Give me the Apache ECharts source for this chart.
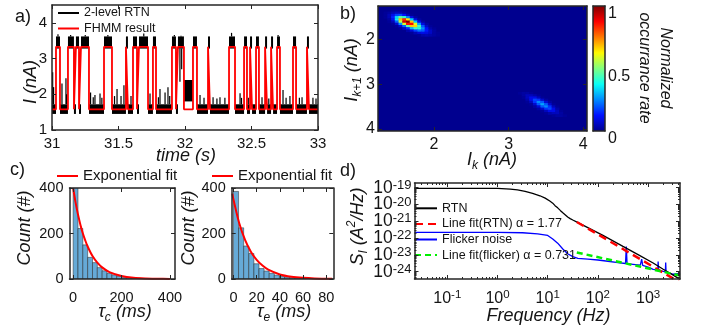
<!DOCTYPE html>
<html>
<head>
<meta charset="utf-8">
<title>RTN analysis</title>
<script src="https://cdn.jsdelivr.net/npm/echarts@6.0.0/dist/echarts.min.js"></script>
<style>
html,body{margin:0;padding:0;background:#ffffff;}
#chart{width:704px;height:332px;}
</style>
</head>
<body>
<div id="chart"></div>
<script>
// ================= (a) RTN time trace =================
const timeTicks = [31, 31.5, 32, 32.5, 33];
const currentTicks = [1, 2, 3, 4];
const fhmmLevels = [1.58, 3.33];              // FHMM low / high level (nA)
const highStateIntervals = [
  [31.030, 31.060], [31.120, 31.165], [31.180, 31.203], [31.218, 31.278],
  [31.391, 31.451], [31.556, 31.571], [31.609, 31.639], [31.654, 31.722],
  [31.759, 31.782], [31.902, 31.932], [31.947, 31.992], [32.060, 32.090],
  [32.173, 32.188], [32.331, 32.376], [32.444, 32.466], [32.489, 32.504],
  [32.534, 32.556], [32.602, 32.617], [32.647, 32.662], [32.692, 32.714],
  [32.812, 32.835], [32.917, 32.932]
];
const rtnLowBand = [1.45, 1.72];              // noisy black band, low state
const rtnHighBand = [3.28, 3.62];             // noisy black band, high state
const rtnMidState = [31.992, 32.060, 1.80, 2.40];
const rtnLowSpikes = [
  [31.005, 2.62], [31.012, 2.20], [31.075, 2.30], [31.105, 2.45], [31.110, 2.00],
  [31.290, 2.05], [31.310, 1.92], [31.323, 1.98], [31.361, 2.02], [31.375, 1.90],
  [31.470, 1.95], [31.489, 2.15], [31.519, 1.95], [31.541, 2.25], [31.594, 1.95],
  [31.737, 2.02], [31.800, 1.92], [31.812, 2.15], [31.850, 2.05], [31.872, 2.20],
  [31.885, 1.95], [32.113, 1.98], [32.143, 1.90], [32.211, 1.92], [32.240, 1.88],
  [32.263, 1.92], [32.300, 1.90], [32.414, 2.03], [32.425, 1.90], [32.476, 1.90],
  [32.579, 1.92], [32.630, 1.88], [32.737, 2.12], [32.760, 1.90], [32.789, 1.95],
  [32.860, 1.90], [32.880, 1.92], [32.962, 1.90], [32.985, 1.88]
];
const rtnHighSpikes = [
  [31.045, 3.68], [31.140, 3.66], [31.250, 3.66], [31.420, 3.66], [31.690, 3.70],
  [31.920, 3.66], [31.970, 3.64], [32.350, 3.72], [32.700, 3.66]
];
const rtnHighDips = [[31.962, 2.35], [31.975, 2.70]];

// ================= (b) lag plot density =================
const lagTicks = [2, 3, 4];
const lagRange = [1.25, 4.05];
const colorbarTicks = [0, 0.5, 1];
const densityCell = 0.05;
const lowStateOrigin = [1.35, 1.35];          // x, y of first cell centre
const lowStateDensity = [
  [0, 0, 0.01, 0.01, 0.01, 0, 0, 0, 0, 0, 0, 0, 0, 0, 0],
  [0.01, 0.02, 0.04, 0.05, 0.04, 0.02, 0.01, 0, 0, 0, 0, 0, 0, 0, 0],
  [0.01, 0.04, 0.10, 0.17, 0.18, 0.12, 0.05, 0.01, 0, 0, 0, 0, 0, 0, 0],
  [0.01, 0.04, 0.14, 0.33, 0.47, 0.42, 0.24, 0.09, 0.02, 0, 0, 0, 0, 0, 0],
  [0, 0.02, 0.11, 0.35, 0.68, 0.83, 0.64, 0.32, 0.10, 0.02, 0, 0, 0, 0, 0],
  [0, 0.01, 0.05, 0.21, 0.55, 0.92, 1.00, 0.68, 0.32, 0.10, 0.02, 0, 0, 0, 0],
  [0, 0, 0.01, 0.07, 0.26, 0.58, 0.86, 0.87, 0.60, 0.28, 0.09, 0.02, 0, 0, 0],
  [0, 0, 0, 0.01, 0.07, 0.21, 0.46, 0.67, 0.66, 0.44, 0.20, 0.06, 0.01, 0, 0],
  [0, 0, 0, 0, 0.01, 0.05, 0.14, 0.30, 0.43, 0.41, 0.26, 0.12, 0.03, 0.01, 0],
  [0, 0, 0, 0, 0, 0, 0.03, 0.08, 0.17, 0.23, 0.21, 0.13, 0.06, 0.02, 0],
  [0, 0, 0, 0, 0, 0, 0, 0.01, 0.04, 0.08, 0.10, 0.09, 0.06, 0.02, 0.01],
  [0, 0, 0, 0, 0, 0, 0, 0, 0, 0.01, 0.03, 0.04, 0.03, 0.02, 0.01]
];
const highStateOrigin = [3.15, 3.20];
const highStateDensity = [
  [0.01, 0.02, 0.02, 0.01, 0, 0, 0, 0, 0, 0, 0, 0, 0],
  [0, 0.02, 0.05, 0.05, 0.03, 0.01, 0, 0, 0, 0, 0, 0, 0],
  [0, 0.01, 0.05, 0.10, 0.10, 0.05, 0.01, 0, 0, 0, 0, 0, 0],
  [0, 0, 0.03, 0.10, 0.18, 0.16, 0.07, 0.02, 0, 0, 0, 0, 0],
  [0, 0, 0.01, 0.05, 0.16, 0.25, 0.20, 0.08, 0.02, 0, 0, 0, 0],
  [0, 0, 0, 0.01, 0.07, 0.20, 0.28, 0.20, 0.07, 0.01, 0, 0, 0],
  [0, 0, 0, 0, 0.02, 0.08, 0.20, 0.25, 0.16, 0.05, 0.01, 0, 0],
  [0, 0, 0, 0, 0, 0.02, 0.07, 0.16, 0.18, 0.10, 0.03, 0, 0],
  [0, 0, 0, 0, 0, 0, 0.01, 0.05, 0.10, 0.10, 0.05, 0.01, 0],
  [0, 0, 0, 0, 0, 0, 0, 0.01, 0.03, 0.05, 0.05, 0.02, 0],
  [0, 0, 0, 0, 0, 0, 0, 0, 0, 0.01, 0.02, 0.02, 0.01]
];
const jetColors = ['#00008F', '#0010FF', '#008AFF', '#0AFFF5', '#80FF80', '#FFFA00', '#FF7A00', '#FC0000', '#800000'];

// ================= (c) dwell-time histograms =================
const countTicks = [0, 200, 400];
const tauCTicks = [0, 200, 400];
const tauETicks = [0, 20, 40, 60, 80];
const tauCBinWidth = 20;
const tauCCounts = [450, 222, 150, 95, 72, 50, 36, 25, 18, 12, 8, 6, 4, 3, 2, 1.5, 1, 1, 0.5, 0.5];
const tauCFit = [[0, 400], [10, 337], [20, 284], [30, 239], [40, 201], [50, 170], [60, 143], [80, 101],
  [100, 72], [120, 51], [150, 30], [200, 13], [250, 5], [300, 2], [350, 1], [400, 0.4]];
const tauEBinWidth = 4.4;
const tauECounts = [385, 225, 145, 112, 67, 46, 35, 25, 17, 11, 8, 6, 4, 3, 2, 1.5, 1, 1, 0.5, 0.5];
const tauEFit = [[-1, 375], [0, 350], [5, 245], [10, 172], [15, 120], [20, 84], [25, 59], [30, 41],
  [40, 20], [50, 10], [60, 5], [70, 2.4], [85, 0.8]];

// ================= (d) power spectral density =================
const freqTicks = [0.1, 1, 10, 100, 1000];
const psdTicks = [1e-24, 1e-23, 1e-22, 1e-21, 1e-20, 1e-19];
const psdLabelsA = [1e-24, 1e-22, 1e-20];
const psdLabelsB = [1e-23, 1e-21, 1e-19];
const freqRange = [0.0222, 4320];
const psdRange = [3.7e-25, 1.9e-19];
const rtnPsd = [
  [0.0222, 9.1e-20], [1, 9.0e-20], [1.8, 8.3e-20], [2.5, 7.4e-20], [3.55, 6.0e-20], [5, 4.6e-20],
  [7, 3.3e-20], [8.9, 2.4e-20], [11, 1.6e-20], [12.6, 1.2e-20], [14, 8.5e-21], [15.8, 6.3e-21],
  [18, 4.3e-21], [20, 3.2e-21], [22.5, 2.4e-21], [25, 1.8e-21], [28, 1.45e-21], [31.6, 1.2e-21],
  [40, 8.4e-22], [63, 4.2e-22], [126, 1.45e-22], [316, 3.2e-23], [631, 1.05e-23], [1260, 3.3e-24],
  [2000, 1.4e-24], [3160, 6.3e-25], [4320, 3.5e-25]
];
const flickerPsd = [
  [0.0222, 2.19e-22], [1, 2.19e-22], [3.16, 2.09e-22], [6.3, 1.78e-22], [10, 1.45e-22], [12.6, 8.9e-23],
  [15.8, 5.0e-23], [20, 2.24e-23], [25, 1.17e-23], [31.6, 7.9e-24], [39.8, 6.3e-24], [63, 5.6e-24],
  [100, 5.0e-24], [158, 4.2e-24], [251, 3.5e-24], [355, 3.1e-24], [368, 3.2e-23], [381, 3.0e-24],
  [500, 2.75e-24], [700, 2.45e-24], [745, 5.6e-24], [780, 2.4e-24], [1000, 1.9e-24], [1260, 1.4e-24],
  [1560, 1.3e-24], [1585, 4.0e-24], [1620, 1.25e-24], [2000, 1.05e-24], [2210, 1.0e-24], [2240, 3.5e-24],
  [2280, 1.0e-24], [3160, 7.1e-25], [4000, 7.6e-25], [4320, 8.9e-25]
];
const rtnLineFit = [[38, 9.1e-22], [4320, 2.3e-25]];
const flickerLineFit = [[38, 1.41e-23], [4320, 5.9e-25]];

// ================= build =================
const FF = "'Liberation Sans', Arial, Helvetica, sans-serif";
const TXT = '#141414';
const AX = '#262626';

const xAxes = [], yAxes = [];
function makeAxis(dim, gridIndex, position, scale, ticks, label, lineOn) {
  const ax = {
    gridIndex: gridIndex, position: position, type: scale.type || 'value',
    min: scale.min, max: scale.max, inverse: !!scale.inverse, z: 10,
    axisLine: { show: lineOn !== false, onZero: false, lineStyle: { color: AX, width: 1.5 } },
    axisTick: ticks ? { show: true, inside: true, length: ticks.len || 4, customValues: ticks.values,
      lineStyle: { color: AX, width: 1 } } : { show: false },
    axisLabel: label ? Object.assign({ show: true, customValues: label.values, color: TXT, interval: 0,
      fontFamily: FF, fontSize: 15, showMinLabel: true, showMaxLabel: true, hideOverlap: false }, label.style) : { show: false },
    splitLine: { show: false },
    axisPointer: { show: false }
  };
  if (scale.type === 'log') ax.logBase = 10;
  const arr = dim === 'x' ? xAxes : yAxes;
  arr.push(ax);
  return arr.length - 1;
}
function box(gridIndex, xs, ys, xt, yt, xl, yl) {
  const xi = makeAxis('x', gridIndex, 'bottom', xs, xt, xl);
  makeAxis('x', gridIndex, 'top', xs, xt, null);
  const yi = makeAxis('y', gridIndex, 'left', ys, yt, yl);
  makeAxis('y', gridIndex, 'right', ys, yt, null);
  return { x: xi, y: yi };
}
function logMinor(lo, hi) {
  const out = [];
  for (let e = Math.floor(Math.log10(lo)); e <= Math.ceil(Math.log10(hi)); e++) {
    for (let k = 2; k <= 9; k++) { const v = k * Math.pow(10, e); if (v > lo && v < hi) out.push(v); }
  }
  return out;
}

const grids = [
  { left: 52, top: 5, width: 266, height: 125 },
  { left: 378, top: 6, width: 209, height: 125, show: true, backgroundColor: '#00008F', borderWidth: 0 },
  { left: 593, top: 6, width: 12, height: 125 },
  { left: 69.5, top: 188, width: 105.5, height: 91 },
  { left: 231.7, top: 188, width: 101.6, height: 91 },
  { left: 414.5, top: 183, width: 265.5, height: 96 }
];

const A = box(0, { min: 31, max: 33 }, { min: 1, max: 4.5 },
  { values: timeTicks }, { values: currentTicks },
  { values: timeTicks, style: { margin: 6 } }, { values: currentTicks, style: { margin: 5 } });
const B = box(1, { min: lagRange[0], max: lagRange[1] }, { min: lagRange[0], max: lagRange[1], inverse: true },
  { values: lagTicks }, { values: lagTicks },
  { values: lagTicks, style: { fontSize: 16, margin: 6 } }, { values: lagTicks, style: { fontSize: 16, margin: 3 } });
const CB = { x: makeAxis('x', 2, 'bottom', { min: 0, max: 1 }, null, null) };
makeAxis('x', 2, 'top', { min: 0, max: 1 }, null, null);
makeAxis('y', 2, 'left', { min: 0, max: 1 }, null, null);
CB.y = makeAxis('y', 2, 'right', { min: 0, max: 1 }, null,
  { values: colorbarTicks, style: { fontSize: 16, margin: 3, verticalAlign: 'top' } });
const C1 = box(3, { min: -15, max: 421 }, { min: 0, max: 400 },
  { values: tauCTicks }, { values: countTicks },
  { values: tauCTicks, style: { fontSize: 14.5, margin: 11 } }, { values: countTicks, style: { fontSize: 14.5, margin: 6 } });
const C2 = box(4, { min: -1.5, max: 86 }, { min: 0, max: 400 },
  { values: tauETicks }, { values: countTicks },
  { values: tauETicks, style: { fontSize: 14.5, margin: 11 } }, { values: countTicks, style: { fontSize: 14.5, margin: 6 } });

const logRichX = {
  b: { fontSize: 16, fontFamily: FF, color: TXT, lineHeight: 20 },
  s: { fontSize: 11.5, fontFamily: FF, color: TXT, verticalAlign: 'top', lineHeight: 11 }
};
const logRichY = {
  b: { fontSize: 17.5, fontFamily: FF, color: TXT, lineHeight: 18 },
  s: { fontSize: 13, fontFamily: FF, color: TXT, verticalAlign: 'top', lineHeight: 8 }
};
const logFmt = v => '{b|10}{s|' + Math.round(Math.log10(v)) + '}';
const fX = { type: 'log', min: freqRange[0], max: freqRange[1] };
const fY = { type: 'log', min: psdRange[0], max: psdRange[1] };
const D = box(5, fX, fY, { values: freqTicks }, { values: psdTicks },
  { values: freqTicks, style: { formatter: logFmt, rich: logRichX, margin: 10 } },
  { values: psdLabelsA, style: { formatter: logFmt, rich: logRichY, margin: 3 } });
// second label-only axis so that the densely packed decade labels are never auto-hidden
makeAxis('y', 5, 'left', fY, null, { values: psdLabelsB, style: { formatter: logFmt, rich: logRichY, margin: 3 } }, false);
const minorF = logMinor(freqRange[0], freqRange[1]);
const minorS = logMinor(psdRange[0], psdRange[1]);
makeAxis('x', 5, 'bottom', fX, { values: minorF, len: 2 }, null, false);
makeAxis('x', 5, 'top', fX, { values: minorF, len: 2 }, null, false);
makeAxis('y', 5, 'left', fY, { values: minorS, len: 2 }, null, false);
makeAxis('y', 5, 'right', fY, { values: minorS, len: 2 }, null, false);

// ---- (a) series data built from the arrays above
const bandItems = [];
function pushLow(a, b) {
  if (Math.abs(a - rtnMidState[0]) < 1e-9 && Math.abs(b - rtnMidState[1]) < 1e-9) {
    bandItems.push(rtnMidState.slice());
  } else {
    bandItems.push([a, b, rtnLowBand[0], rtnLowBand[1]]);
  }
}
let cursor = timeTicks[0];
highStateIntervals.forEach(function (iv) {
  pushLow(cursor, iv[0]);
  bandItems.push([iv[0], iv[1], rtnHighBand[0], rtnHighBand[1]]);
  cursor = iv[1];
});
pushLow(cursor, timeTicks[timeTicks.length - 1]);
rtnLowSpikes.forEach(s => bandItems.push([s[0], s[0], rtnLowBand[1], s[1]]));
rtnHighSpikes.forEach(s => bandItems.push([s[0], s[0], rtnHighBand[1], s[1]]));
rtnHighDips.forEach(s => bandItems.push([s[0], s[0], s[1], rtnHighBand[0]]));

const fhmmPoints = [[timeTicks[0], fhmmLevels[0]]];
highStateIntervals.forEach(function (iv) {
  fhmmPoints.push([iv[0], fhmmLevels[0]], [iv[0], fhmmLevels[1]], [iv[1], fhmmLevels[1]], [iv[1], fhmmLevels[0]]);
});
fhmmPoints.push([timeTicks[timeTicks.length - 1], fhmmLevels[0]]);

function rectRender(params, api) {
  const a = api.coord([api.value(0), api.value(3)]);
  const b = api.coord([api.value(1), api.value(2)]);
  let x = a[0], w = b[0] - a[0];
  if (w < 1.2) { x -= (1.2 - w) / 2; w = 1.2; }
  return { type: 'rect', shape: { x: x, y: a[1], width: w, height: b[1] - a[1] }, style: { fill: '#000000' } };
}

// ---- (b)
function gridCells(origin, rows) {
  const out = [];
  rows.forEach((row, r) => row.forEach((v, c) => {
    if (v > 0) out.push([+(origin[0] + c * densityCell).toFixed(3), +(origin[1] + r * densityCell).toFixed(3), v]);
  }));
  return out;
}
const heatCells = gridCells(lowStateOrigin, lowStateDensity).concat(gridCells(highStateOrigin, highStateDensity));
function heatRender(params, api) {
  const x = api.value(0), y = api.value(1), h = densityCell / 2;
  const a = api.coord([x - h, y - h]), b = api.coord([x + h, y + h]);
  return { type: 'rect', shape: { x: Math.min(a[0], b[0]), y: Math.min(a[1], b[1]),
    width: Math.abs(b[0] - a[0]) + 0.5, height: Math.abs(b[1] - a[1]) + 0.5 },
    style: { fill: api.visual('color') } };
}
function colorbarRender(params, api) {
  const a = api.coord([0, 1]), b = api.coord([1, 0]);
  return { type: 'rect', shape: { x: a[0], y: a[1], width: b[0] - a[0], height: b[1] - a[1] },
    style: { fill: new echarts.graphic.LinearGradient(0, 1, 0, 0,
      jetColors.map((c, i) => ({ offset: i / (jetColors.length - 1), color: c }))) } };
}

// ---- (c)
function histItems(width, counts) { return counts.map((c, i) => [i * width, (i + 1) * width, c]); }
function barRender(params, api) {
  const a = api.coord([api.value(0), api.value(2)]);
  const b = api.coord([api.value(1), 0]);
  return { type: 'rect', shape: { x: a[0], y: a[1], width: b[0] - a[0], height: b[1] - a[1] },
    style: { fill: '#66AAD7', stroke: '#262626', lineWidth: 0.5 } };
}

const series = [
  { type: 'custom', name: 'rtnBand', xAxisIndex: A.x, yAxisIndex: A.y, renderItem: rectRender,
    data: bandItems, z: 2, silent: true, clip: true, encode: { x: [0, 1], y: [2, 3] } },
  { type: 'line', name: 'FHMM result', xAxisIndex: A.x, yAxisIndex: A.y, data: fhmmPoints,
    symbol: 'none', lineStyle: { color: '#FF0000', width: 1.8 }, itemStyle: { color: '#FF0000' }, z: 3, silent: true },
  { type: 'line', name: '2-level RTN', xAxisIndex: A.x, yAxisIndex: A.y, data: [],
    symbol: 'none', lineStyle: { color: '#000000', width: 1.5 }, itemStyle: { color: '#000000' } },
  { type: 'custom', name: 'density', xAxisIndex: B.x, yAxisIndex: B.y, renderItem: heatRender,
    data: heatCells, z: 2, silent: true, encode: { x: 0, y: 1 } },
  { type: 'custom', name: 'colorbar', xAxisIndex: CB.x, yAxisIndex: CB.y, renderItem: colorbarRender,
    data: [[0.5, 0.5]], z: 2, silent: true },
  { type: 'custom', name: 'tauCHist', xAxisIndex: C1.x, yAxisIndex: C1.y, renderItem: barRender,
    data: histItems(tauCBinWidth, tauCCounts), z: 2, silent: true, clip: true, encode: { x: [0, 1], y: 2 } },
  { type: 'line', name: 'Exponential fit', xAxisIndex: C1.x, yAxisIndex: C1.y, data: tauCFit, smooth: 0.3,
    symbol: 'none', lineStyle: { color: '#FF0000', width: 2 }, itemStyle: { color: '#FF0000' }, z: 3, silent: true },
  { type: 'custom', name: 'tauEHist', xAxisIndex: C2.x, yAxisIndex: C2.y, renderItem: barRender,
    data: histItems(tauEBinWidth, tauECounts), z: 2, silent: true, clip: true, encode: { x: [0, 1], y: 2 } },
  { type: 'line', name: 'Exponential fit', xAxisIndex: C2.x, yAxisIndex: C2.y, data: tauEFit, smooth: 0.3,
    symbol: 'none', lineStyle: { color: '#FF0000', width: 2 }, itemStyle: { color: '#FF0000' }, z: 3, silent: true },
  { type: 'line', name: 'Flicker noise', xAxisIndex: D.x, yAxisIndex: D.y, data: flickerPsd,
    symbol: 'none', lineStyle: { color: '#0000FF', width: 1.3 }, itemStyle: { color: '#0000FF' }, z: 2, silent: true },
  { type: 'line', name: 'RTN', xAxisIndex: D.x, yAxisIndex: D.y, data: rtnPsd,
    symbol: 'none', lineStyle: { color: '#000000', width: 1.3 }, itemStyle: { color: '#000000' }, z: 2, silent: true },
  { type: 'line', name: 'Line fit(RTN) α = 1.77', xAxisIndex: D.x, yAxisIndex: D.y, data: rtnLineFit,
    symbol: 'none', lineStyle: { color: '#FF0000', width: 2.5, type: [8, 5] }, itemStyle: { color: '#FF0000' }, z: 3, silent: true },
  { type: 'line', name: 'Line fit(flicker) α = 0.731', xAxisIndex: D.x, yAxisIndex: D.y, data: flickerLineFit,
    symbol: 'none', lineStyle: { color: '#00EE00', width: 2.5, type: [6, 4] }, itemStyle: { color: '#00EE00' }, z: 3, silent: true }
];
const HEAT_INDEX = 3;

const legendText = size => ({ fontFamily: FF, fontSize: size, color: TXT });
const noSymbol = { opacity: 0 };
const legends = [
  { data: ['2-level RTN', 'FHMM result'], left: 57, top: 6.5, orient: 'vertical', itemWidth: 21, itemHeight: 12,
    itemGap: 2.5, padding: 0, selectedMode: false, itemStyle: noSymbol, textStyle: legendText(12.5) },
  { data: ['Exponential fit'], left: 56, top: 168.5, itemWidth: 21, itemHeight: 12, padding: 0,
    selectedMode: false, itemStyle: noSymbol, textStyle: legendText(15) },
  { data: ['Exponential fit'], left: 211, top: 168.5, itemWidth: 21, itemHeight: 12, padding: 0,
    selectedMode: false, itemStyle: noSymbol, textStyle: legendText(15) },
  { data: ['RTN', 'Line fit(RTN) α = 1.77', 'Flicker noise', 'Line fit(flicker) α = 0.731'], left: 414, top: 201.8,
    orient: 'vertical', itemWidth: 22, itemHeight: 13, itemGap: 2.6, padding: 0, selectedMode: false,
    itemStyle: noSymbol, textStyle: legendText(12.5) }
];

function richName(size) {
  return {
    n: { fontSize: size, fontStyle: 'italic', fontFamily: FF, fill: TXT, color: TXT },
    sub: { fontSize: Math.round(size * 0.68), fontStyle: 'italic', fontFamily: FF, fill: TXT, color: TXT,
      verticalAlign: 'bottom', lineHeight: Math.round(size * 0.68) },
    sup: { fontSize: Math.round(size * 0.68), fontStyle: 'italic', fontFamily: FF, fill: TXT, color: TXT,
      verticalAlign: 'top', lineHeight: Math.round(size * 0.68) }
  };
}
function txt(text, x, y, o) {
  o = o || {};
  return { type: 'text', x: x, y: y, rotation: o.rot || 0, silent: true, z: 100,
    style: { text: text, x: 0, y: 0, align: o.align || 'center', verticalAlign: 'middle', fontFamily: FF,
      fontSize: o.size || 18, fontStyle: o.italic ? 'italic' : 'normal', fill: TXT,
      lineHeight: o.lh, rich: o.rich } };
}
const R = Math.PI / 2;
const graphics = [
  txt('a)', 15, 17.5, { align: 'left', size: 18 }),
  txt('b)', 340, 14.5, { align: 'left', size: 18 }),
  txt('c)', 10, 170, { align: 'left', size: 18 }),
  txt('d)', 340, 171, { align: 'left', size: 18 }),
  txt('I (nA)', 31, 82, { rot: R, italic: true, size: 18 }),
  txt('time (s)', 186, 156, { italic: true, size: 18 }),
  txt('{n|I}{sub|k+1}{n| (nA)}', 352, 70, { rot: R, rich: richName(18), lh: 24 }),
  txt('{n|I}{sub|k}{n| (nA)}', 492, 160, { rich: richName(18), lh: 24 }),
  txt('Normalized\noccurrance rate', 655, 68, { rot: -R, italic: true, size: 16, lh: 20.5 }),
  txt('Count (#)', 25, 228, { rot: R, italic: true, size: 18 }),
  txt('Count (#)', 189, 228, { rot: R, italic: true, size: 18 }),
  txt('{n|τ}{sub|c}{n| (ms)}', 125, 312, { rich: richName(18), lh: 24 }),
  txt('{n|τ}{sub|e}{n| (ms)}', 284, 312, { rich: richName(18), lh: 24 }),
  txt('{n|S}{sub|I}{n| (A}{sup|2}{n|/Hz)}', 357.5, 226.5, { rot: R, rich: richName(18), lh: 24 }),
  txt('Frequency (Hz)', 548.5, 315.5, { italic: true, size: 18 })
];

const chart = echarts.init(document.getElementById('chart'), null, { renderer: 'canvas' });
chart.setOption({
  animation: false,
  backgroundColor: '#ffffff',
  textStyle: { fontFamily: FF },
  grid: grids,
  xAxis: xAxes,
  yAxis: yAxes,
  visualMap: [{ type: 'continuous', show: false, min: 0, max: 1, dimension: 2, seriesIndex: HEAT_INDEX,
    inRange: { color: jetColors } }],
  legend: legends,
  series: series,
  graphic: graphics
});
</script>
</body>
</html>
